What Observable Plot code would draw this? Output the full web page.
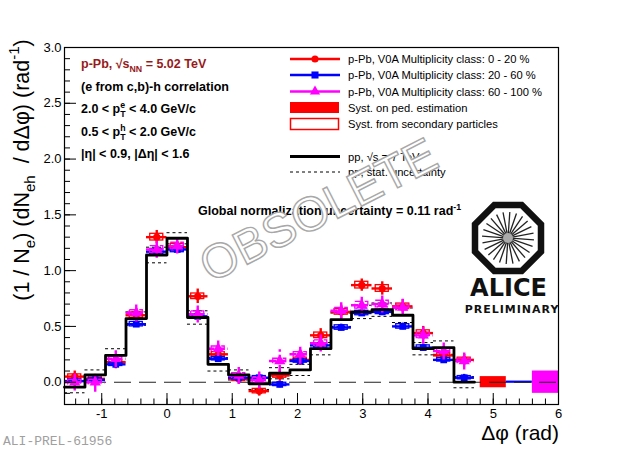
<!DOCTYPE html>
<html><head><meta charset="utf-8">
<script src="https://cdn.jsdelivr.net/npm/d3@7"></script>
<script src="https://cdn.jsdelivr.net/npm/@observablehq/plot@0.6"></script>
<style>body{margin:0;background:#fff;} svg{display:block}</style>
</head><body><div id="chart"></div>
<script>
// ---- data ----
const phiCenters = [-1.414,-1.100,-0.785,-0.471,-0.157,0.157,0.471,0.785,1.100,1.414,1.728,2.042,2.356,2.670,2.985,3.299,3.613,3.927,4.241,4.555];
const ppValues = [-0.045,0.065,0.24,0.57,1.14,1.29,0.58,0.16,0.065,-0.015,0.08,0.11,0.30,0.56,0.63,0.65,0.60,0.30,0.31,0.0];
const ppStat   = [0.05,0.045,0.06,0.06,0.07,0.05,0.06,0.06,0.045,0.05,0.05,0.05,0.055,0.06,0.06,0.06,0.065,0.055,0.06,0.05];
const redValues  = [0.05,0.03,0.18,0.60,1.30,1.21,0.77,0.25,0.03,-0.08,0.06,0.20,0.42,0.63,0.87,0.84,0.68,0.44,0.24,0.20];
const redStat    = [0.05,0.04,0.06,0.06,0.06,0.05,0.065,0.06,0.045,0.045,0.05,0.05,0.06,0.06,0.055,0.06,0.06,0.06,0.05,0.05];
const redSyst    = [0.02,0.02,0.02,0.025,0.03,0.03,0.025,0.02,0.02,0.02,0.02,0.02,0.025,0.025,0.03,0.03,0.025,0.025,0.02,0.02];
const blueValues = [0.01,0.02,0.16,0.52,1.17,1.19,0.59,0.21,0.04,0.04,-0.02,0.19,0.33,0.49,0.62,0.63,0.50,0.31,0.20,0.04];
const blueStat   = [0.03,0.03,0.03,0.03,0.035,0.035,0.03,0.03,0.03,0.03,0.03,0.03,0.03,0.03,0.03,0.03,0.03,0.03,0.03,0.03];
const blueSyst   = [0.015,0.015,0.015,0.02,0.025,0.025,0.02,0.015,0.015,0.015,0.015,0.015,0.02,0.02,0.02,0.02,0.02,0.02,0.015,0.015];
const magValues  = [0.00,0.00,0.21,0.62,1.19,1.22,0.61,0.30,0.06,0.02,0.19,0.25,0.35,0.64,0.69,0.70,0.67,0.42,0.28,0.19];
const magStat    = [0.08,0.09,0.08,0.08,0.08,0.07,0.08,0.07,0.08,0.08,0.10,0.09,0.08,0.08,0.08,0.08,0.08,0.08,0.08,0.08];
const magSyst    = [0.02,0.02,0.02,0.025,0.03,0.03,0.025,0.02,0.02,0.02,0.02,0.02,0.025,0.025,0.03,0.03,0.025,0.025,0.02,0.02];
const globalX    = [5.0, 5.4, 5.8];
const globalHalf = [0.05, 0.01, 0.10];
const globalColors = ["#ff0000","#0000ff","#ff00ff"];
const xTickLabels = [-1,0,1,2,3,4,5,6];
const yTickLabels = [0,0.5,1,1.5,2,2.5,3];

// ---- layout ----
const W = 623, H = 451, mL = 64, mR = 65, mT = 47, mB = 47;
const xmin = -Math.PI/2, xmax = 6, ymin = -0.2, ymax = 3;
const ux = (xmax - xmin) / (W - mL - mR);
const uy = (ymax - ymin) / (H - mT - mB);
const hw = Math.PI/20;   // half bin width
const bw = 0.1;          // half width of syst boxes

const ppRows = phiCenters.map((c,i)=>({c, lo:c-hw, hi:c+hw, v:ppValues[i], e:ppStat[i]}));
const stepPts = ppRows.map(r=>({x:r.lo, y:r.v})).concat([{x:ppRows[ppRows.length-1].hi, y:ppRows[ppRows.length-1].v}]);
function series(vals, errs, syst){ return phiCenters.map((c,i)=>({c, lo:c-hw, hi:c+hw, v:vals[i], e:errs[i], s:syst[i]})); }
const redRows = series(redValues, redStat, redSyst);
const blueRows = series(blueValues, blueStat, blueSyst);
const magRows = series(magValues, magStat, magSyst);
const globalRows = globalX.map((x,i)=>({x, h:globalHalf[i], color:globalColors[i]}));

function seriesMarks(rows, color, symbol, r, dash){
  return [
    Plot.rect(rows, {x1:d=>d.c-bw, x2:d=>d.c+bw, y1:d=>d.v-d.s, y2:d=>d.v+d.s, fill:"none", stroke:color, strokeWidth:1.3, strokeDasharray:dash}),
    Plot.ruleY(rows, {x1:"lo", x2:"hi", y:"v", stroke:color, strokeWidth:2.4, strokeDasharray:dash}),
    Plot.ruleX(rows, {x:"c", y1:d=>d.v-d.e, y2:d=>d.v+d.e, stroke:color, strokeWidth:2.4, strokeDasharray:dash}),
    Plot.dot(rows, {x:"c", y:"v", symbol, r, fill:color, stroke:"none"})
  ];
}

const xMinor = d3.range(-1.4, 6.001, 0.2).map(v=>+v.toFixed(2));
const yMinor = d3.range(-0.2, 3.001, 0.1).map(v=>+v.toFixed(2));

const plot = Plot.plot({
  width: W, height: H,
  marginLeft: mL, marginRight: mR, marginTop: mT, marginBottom: mB,
  style: {fontFamily: "'Liberation Sans', Arial, Helvetica, sans-serif", fontSize: "13px", background: "#fff"},
  x: {domain: [xmin, xmax], label: null},
  y: {domain: [ymin, ymax], label: null},
  marks: [
    ...globalRows.map(g => Plot.rect([g], {x1:d=>d.x-0.2, x2:d=>d.x+0.2, y1:d=>-d.h, y2:d=>d.h, fill:g.color})),
    Plot.ruleY([0], {stroke:"#222", strokeWidth:1.1, strokeDasharray:"17,8"}),
    Plot.ruleY(ppRows, {x1:"lo", x2:"hi", y:d=>d.v+d.e, stroke:"#000", strokeWidth:1, strokeDasharray:"3,3"}),
    Plot.ruleY(ppRows, {x1:"lo", x2:"hi", y:d=>d.v-d.e, stroke:"#000", strokeWidth:1, strokeDasharray:"3,3"}),
    ...seriesMarks(redRows, "#ff0000", "circle", 3.6, null),
    ...seriesMarks(blueRows, "#0000ff", "square", 3.8, null),
    ...seriesMarks(magRows, "#ff00ff", "triangle", 4.2, "7,3"),
    Plot.line(stepPts, {x:"x", y:"y", curve:"step-after", stroke:"#000", strokeWidth:2.8}),
    // inward ticks
    Plot.ruleY(yMinor, {y:d=>d, x1:xmin, x2:xmin+6*ux, stroke:"#000", strokeWidth:1}),
    Plot.ruleY(yTickLabels, {y:d=>d, x1:xmin, x2:xmin+12*ux, stroke:"#000", strokeWidth:1}),
    Plot.ruleX(xMinor, {x:d=>d, y1:ymin, y2:ymin+5.5*uy, stroke:"#000", strokeWidth:1}),
    Plot.ruleX(xTickLabels, {x:d=>d, y1:ymin, y2:ymin+11*uy, stroke:"#000", strokeWidth:1}),
    Plot.axisX({ticks: xTickLabels, tickSize: 0, tickPadding: 4, tickFormat: d=>String(d), fontSize: 13, label: null}),
    Plot.axisY({ticks: yTickLabels, tickSize: 0, tickPadding: 3, tickFormat: d=>d.toFixed(1), fontSize: 13, label: null}),
    Plot.frame({stroke:"#000", strokeWidth:1.2})
  ]
});
document.getElementById("chart").appendChild(plot);

// ---- annotations ----
const svg = d3.select(plot);
const FONT = "'Liberation Sans', Arial, Helvetica, sans-serif";
const g = svg.append("g").attr("font-family", FONT).attr("text-anchor","start");

function rich(parent, x, y, parts, attrs){
  const t = parent.append("text").attr("x", x).attr("y", y).attr("text-anchor","start");
  for (const k in attrs) t.attr(k, attrs[k]);
  const fs = parseFloat(attrs["font-size"]);
  let shift = 0;
  for (const p of parts){
    const sp = t.append("tspan");
    let target = 0, size = fs;
    if (p.sub) { target = fs*0.3; size = fs*0.7; }
    if (p.sup) { target = -fs*0.42; size = fs*0.7; }
    sp.attr("dy", target - shift).attr("font-size", size);
    if (p.dx) sp.attr("dx", p.dx);
    sp.text(p.t);
    shift = target;
  }
  return t;
}

// top-left text
const tl = {"font-size": 12.5, "font-weight": "bold", fill: "#000"};
rich(g, 81, 68, [{t:"p-Pb, √"},{t:"s"},{t:"NN", sub:true},{t:" = 5.02 TeV"}], {...tl, fill:"#961a1a"});
rich(g, 81, 91, [{t:"(e from c,b)-h correlation"}], tl);
rich(g, 81, 113, [{t:"2.0 < p"},{t:"e", sup:true},{t:"T", sub:true, dx:-5},{t:" < 4.0 GeV/c"}], tl);
rich(g, 81, 136, [{t:"0.5 < p"},{t:"h", sup:true},{t:"T", sub:true, dx:-5.5},{t:" < 2.0 GeV/c"}], tl);
rich(g, 81, 158, [{t:"|η| < 0.9, |Δη| < 1.6"}], tl);

// legend
const lg = g.append("g");
const lt = {"font-size": 11.2, fill: "#000"};
const legRows = [
  {y:59, color:"#ff0000", sym:"circle", text:"p-Pb, V0A Multiplicity class: 0 - 20 %"},
  {y:75, color:"#0000ff", sym:"square", text:"p-Pb, V0A Multiplicity class: 20 - 60 %"},
  {y:91.5, color:"#ff00ff", sym:"triangle", text:"p-Pb, V0A Multiplicity class: 60 - 100 %"}
];
for (const r of legRows){
  lg.append("line").attr("x1",290).attr("x2",340).attr("y1",r.y).attr("y2",r.y).attr("stroke",r.color).attr("stroke-width",2.4);
  const symType = r.sym==="circle"?d3.symbolCircle:r.sym==="square"?d3.symbolSquare:d3.symbolTriangle;
  const size = r.sym==="circle"?40:r.sym==="square"?50:45;
  lg.append("path").attr("d", d3.symbol(symType, size)()).attr("transform",`translate(315,${r.y})`).attr("fill",r.color);
  rich(lg, 348, r.y+4, [{t:r.text}], lt);
}
lg.append("rect").attr("x",290).attr("y",102).attr("width",49).attr("height",11).attr("fill","#ff0000");
rich(lg, 348, 112, [{t:"Syst. on ped. estimation"}], lt);
lg.append("rect").attr("x",290.5).attr("y",118.5).attr("width",48).attr("height",11).attr("fill","#fff").attr("stroke","#ff0000").attr("stroke-width",1.5);
rich(lg, 348, 128, [{t:"Syst. from secondary particles"}], lt);
lg.append("line").attr("x1",290).attr("x2",340).attr("y1",156.5).attr("y2",156.5).attr("stroke","#000").attr("stroke-width",2.8);
rich(lg, 348, 161, [{t:"pp, √s = 7 TeV"}], lt);
lg.append("line").attr("x1",290).attr("x2",340).attr("y1",172).attr("y2",172).attr("stroke","#000").attr("stroke-width",1).attr("stroke-dasharray","3,3");
rich(lg, 348, 176, [{t:"pp, stat. uncertainty"}], lt);

// global normalization
rich(g, 198, 215, [{t:"Global normalization uncertainty = 0.11 rad"},{t:"-1", sup:true}], {"font-size":12.5, "font-weight":"bold", fill:"#000"});

// axis titles
rich(g, 559, 440, [{t:"Δφ (rad)"}], {"font-size":21, "text-anchor":"end", fill:"#000"});
const yl = rich(g, 0, 0, [{t:"(1 / N"},{t:"e", sub:true},{t:") (dN"},{t:"eh", sub:true},{t:"  / dΔφ) (rad"},{t:"-1", sup:true},{t:")"}], {"font-size":21.5, "text-anchor":"middle", fill:"#000"});
yl.attr("transform","translate(28.5,170) rotate(-90)");

// preliminary id
g.append("text").attr("x",3).attr("y",445).attr("text-anchor","start").attr("font-family","'Liberation Mono', 'DejaVu Sans Mono', monospace").attr("font-size",13).attr("fill","#a0a0a0").text("ALI-PREL-61956");

// ALICE logo
const logo = g.append("g").attr("transform","translate(508,238)");
const R = 33/Math.cos(Math.PI/8);
const oct = d3.range(8).map(k=>{const a = Math.PI/8 + k*Math.PI/4; return [R*Math.cos(a), R*Math.sin(a)];});
logo.append("path").attr("d","M"+oct.map(p=>p.join(",")).join("L")+"Z").attr("fill","#fff").attr("stroke","#111").attr("stroke-width",6.5).attr("stroke-linejoin","miter");
for (let k=0;k<24;k++){
  const a = k*Math.PI/12 + 0.07;
  logo.append("line").attr("x1",3*Math.cos(a)).attr("y1",3*Math.sin(a)).attr("x2",26*Math.cos(a)).attr("y2",26*Math.sin(a)).attr("stroke","#222").attr("stroke-width",1.3);
}
logo.append("circle").attr("r",5).attr("fill","#aaa");
g.append("text").attr("x",508.5).attr("y",296).attr("text-anchor","middle").attr("font-family","'DejaVu Sans', sans-serif").attr("font-weight","bold").attr("font-size",24).attr("fill","#111").text("ALICE");
g.append("text").attr("x",512).attr("y",313).attr("text-anchor","middle").attr("font-family","'DejaVu Sans', sans-serif").attr("font-weight","bold").attr("font-size",11).attr("letter-spacing",1).attr("fill","#111").text("PRELIMINARY");

// watermark
g.append("text").attr("transform","translate(318,209) rotate(-27)").attr("text-anchor","middle").attr("dy","0.36em")
  .attr("font-size",48).attr("fill","#fff").attr("stroke","#a8a8a8").attr("stroke-width",1.4).text("OBSOLETE");
</script>
</body></html>
